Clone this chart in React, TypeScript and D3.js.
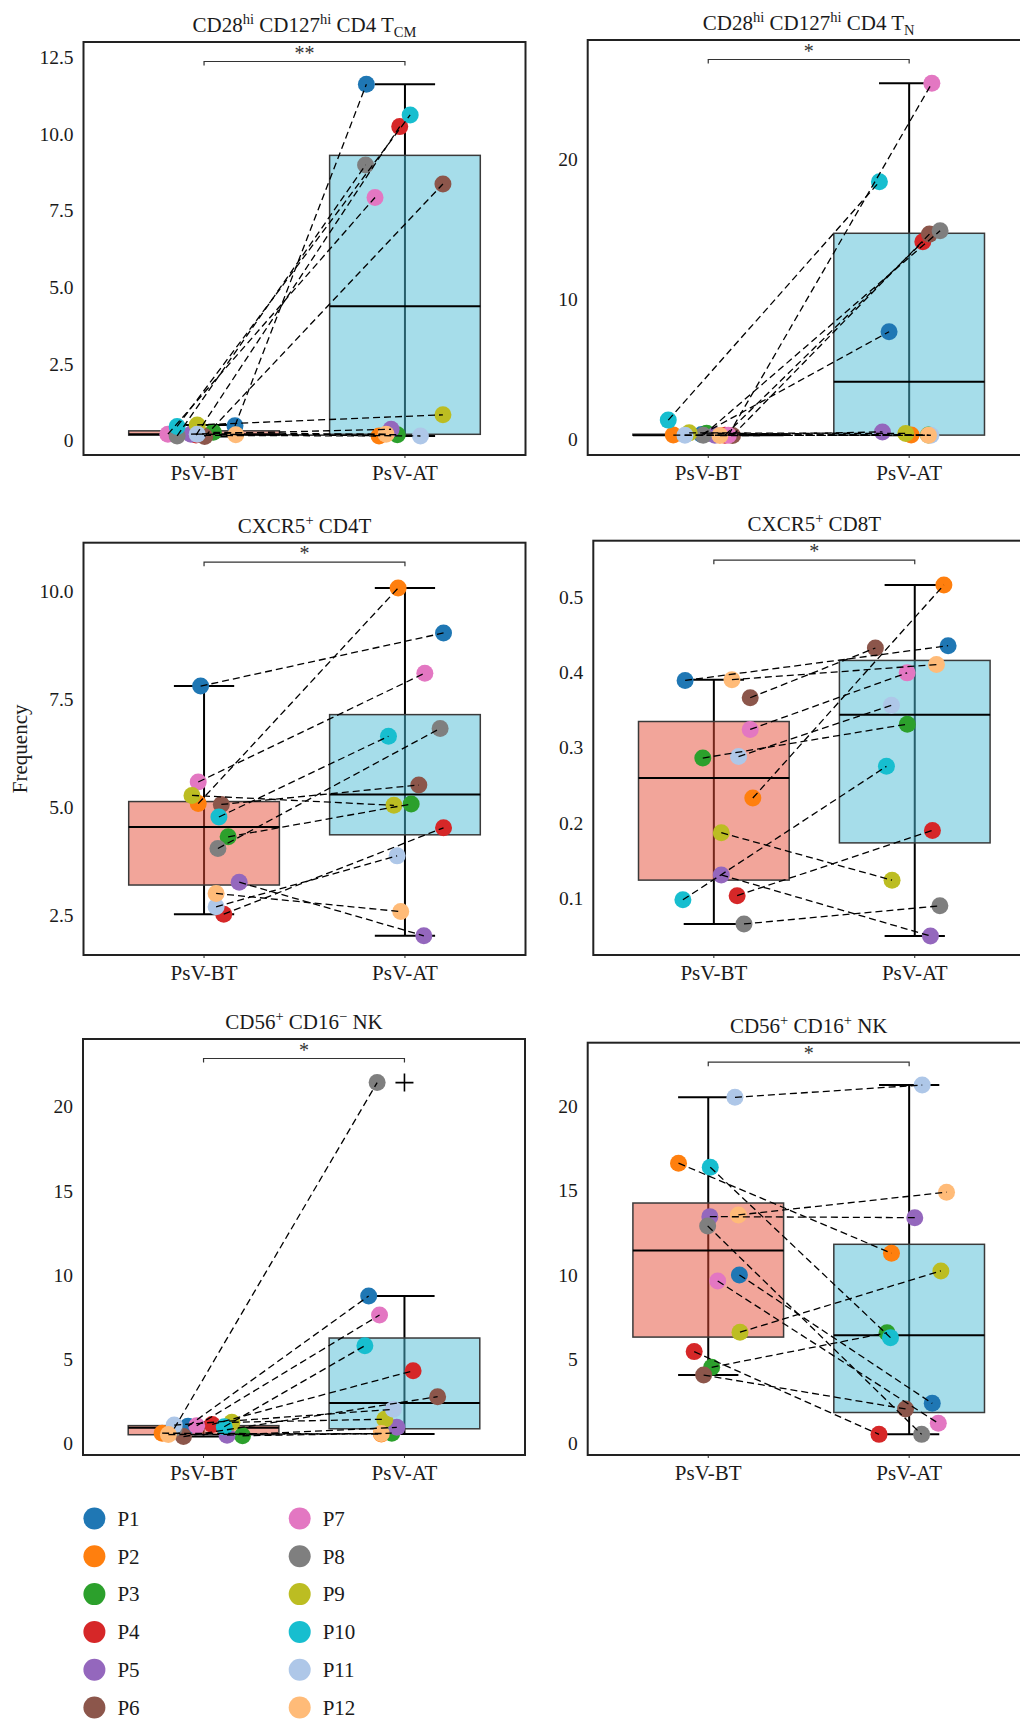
import React, { useEffect, useRef } from 'react';
import * as d3 from 'd3';

const patients = ['P1', 'P2', 'P3', 'P4', 'P5', 'P6', 'P7', 'P8', 'P9', 'P10', 'P11', 'P12'];
const patientColors = [
  '#1f77b4', '#ff7f0e', '#2ca02c', '#d62728', '#9467bd', '#8c564b',
  '#e377c2', '#7f7f7f', '#bcbd22', '#17becf', '#aec7e8', '#ffbb78',
];
const groups = ['PsV-BT', 'PsV-AT'];
const groupFills = ['#e54b35', '#4dbbd5'];

// values per patient (P1..P12), before / after treatment
const tcmBT = [0.48, 0.17, 0.27, 0.18, 0.21, 0.13, 0.21, 0.15, 0.51, 0.46, 0.21, 0.19];
const tcmAT = [11.62, 0.15, 0.19, 10.24, 0.37, 8.37, 7.93, 8.99, 0.84, 10.62, 0.15, 0.21];
const tnBT = [0.35, 0.31, 0.45, 0.3, 0.3, 0.28, 0.3, 0.3, 0.47, 1.38, 0.3, 0.28];
const tnAT = [7.69, 0.31, 0.31, 14.11, 0.54, 14.66, 25.43, 14.9, 0.43, 18.4, 0.3, 0.3];
const cd4BT = [7.8, 5.08, 4.31, 2.52, 3.26, 5.06, 5.58, 4.04, 5.27, 4.77, 2.69, 3.0];
const cd4AT = [9.03, 10.07, 5.07, 4.52, 2.02, 5.51, 8.1, 6.82, 5.04, 6.64, 3.87, 2.58];
const cd8BT = [0.389, 0.233, 0.286, 0.1035, 0.131, 0.366, 0.324, 0.066, 0.187, 0.098, 0.288, 0.39];
const cd8AT = [0.435, 0.5155, 0.331, 0.19, 0.05, 0.432, 0.399, 0.09, 0.124, 0.275, 0.356, 0.41];
const nkNegBT = [1.02, 0.6, 0.45, 1.12, 0.48, 0.4, 1.04, 0.88, 1.25, 0.98, 1.08, 0.52];
const nkNegAT = [8.75, 0.55, 0.6, 4.31, 0.95, 2.77, 7.62, 21.43, 1.43, 5.8, 2.02, 0.58];
const nkPosBT = [9.99, 16.62, 4.51, 5.44, 13.45, 4.05, 9.63, 12.9, 6.59, 16.38, 20.53, 13.55];
const nkPosAT = [2.37, 11.28, 6.56, 0.53, 13.39, 2.04, 1.19, 0.53, 10.23, 6.27, 21.26, 14.9];

// horizontal jitter of each dot (in category units)
const tcmJitBT = [0.154, 0.0, 0.046, -0.04, -0.065, 0.003, -0.18, -0.134, -0.034, -0.134, -0.034, 0.158];
const tcmJitAT = [-0.192, -0.129, -0.038, -0.026, -0.069, 0.189, -0.149, -0.196, 0.189, 0.026, 0.077, -0.094];
const tnJitBT = [-0.033, -0.174, -0.008, 0.083, 0.033, 0.121, 0.1, -0.025, -0.095, -0.199, -0.116, 0.058];
const tnJitAT = [-0.1, 0.01, 0.096, 0.068, -0.133, 0.101, 0.113, 0.154, -0.017, -0.148, 0.108, 0.096];
const cd4JitBT = [-0.017, -0.029, 0.12, 0.098, 0.175, 0.086, -0.029, 0.069, -0.06, 0.074, 0.06, 0.06];
const cd4JitAT = [0.192, -0.034, 0.031, 0.192, 0.094, 0.069, 0.099, 0.175, -0.055, -0.082, -0.039, -0.021];
const cd8JitBT = [-0.143, 0.194, -0.055, 0.116, 0.037, 0.181, 0.181, 0.15, 0.037, -0.154, 0.123, 0.09];
const cd8JitAT = [0.166, 0.145, -0.037, 0.088, 0.078, -0.196, -0.038, 0.125, -0.113, -0.141, -0.116, 0.108];
const nkNegJitBT = [-0.077, -0.206, 0.194, 0.043, 0.117, -0.1, -0.034, -0.146, 0.141, 0.103, -0.146, -0.175];
const nkNegJitAT = [-0.178, -0.115, -0.063, 0.043, -0.038, 0.165, -0.124, -0.136, -0.098, -0.197, -0.055, -0.115];
const nkPosJitBT = [0.155, -0.148, 0.017, -0.07, 0.008, -0.023, 0.047, -0.003, 0.158, 0.01, 0.133, 0.15];
const nkPosJitAT = [0.115, -0.088, -0.11, -0.15, 0.028, -0.018, 0.145, 0.062, 0.158, -0.093, 0.065, 0.186];

// title pieces: [text, kind] with kind '' | 'sup' | 'sub'
const titles = [
  [['CD28', ''], ['hi', 'sup'], [' CD127', ''], ['hi', 'sup'], [' CD4 T', ''], ['CM', 'sub']],
  [['CD28', ''], ['hi', 'sup'], [' CD127', ''], ['hi', 'sup'], [' CD4 T', ''], ['N', 'sub']],
  [['CXCR5', ''], ['+', 'sup'], [' CD4T', '']],
  [['CXCR5', ''], ['+', 'sup'], [' CD8T', '']],
  [['CD56', ''], ['+', 'sup'], [' CD16', ''], ['\u2212', 'sup'], [' NK', '']],
  [['CD56', ''], ['+', 'sup'], [' CD16', ''], ['+', 'sup'], [' NK', '']],
];
const yTicks = [
  [0, 2.5, 5, 7.5, 10, 12.5],
  [0, 10, 20],
  [2.5, 5, 7.5, 10],
  [0.1, 0.2, 0.3, 0.4, 0.5],
  [0, 5, 10, 15, 20],
  [0, 5, 10, 15, 20],
];
const yDomains = [
  [-0.47, 13.0],
  [-1.11, 28.52],
  [1.575, 11.12],
  [0.0248, 0.5743],
  [-0.695, 24.02],
  [-0.694, 23.77],
];
const stars = ['**', '*', '*', '*', '*', '*'];

const panels = [
  { bt: tcmBT, at: tcmAT, jbt: tcmJitBT, jat: tcmJitAT, left: 83.5, top: 42, bottom: 455, fmt: (v) => (v === 0 ? '0' : v.toFixed(1)) },
  { bt: tnBT, at: tnAT, jbt: tnJitBT, jat: tnJitAT, left: 587.7, top: 40, bottom: 455, fmt: (v) => String(v) },
  { bt: cd4BT, at: cd4AT, jbt: cd4JitBT, jat: cd4JitAT, left: 83.5, top: 542.7, bottom: 955, fmt: (v) => v.toFixed(1), ylabel: 'Frequency' },
  { bt: cd8BT, at: cd8AT, jbt: cd8JitBT, jat: cd8JitAT, left: 593.3, top: 540.7, bottom: 955, fmt: (v) => v.toFixed(1) },
  { bt: nkNegBT, at: nkNegAT, jbt: nkNegJitBT, jat: nkNegJitAT, left: 83, top: 1039, bottom: 1455, fmt: (v) => String(v), markOutliers: true },
  { bt: nkPosBT, at: nkPosAT, jbt: nkPosJitBT, jat: nkPosJitAT, left: 587.7, top: 1042.7, bottom: 1455, fmt: (v) => String(v) },
];

const FONT = '"Liberation Serif", "Times New Roman", serif';
const PANEL_W = 442;
const DOT_R = 8.5;

function drawPanel(svg, p, idx) {
  const x = d3.scaleLinear().domain([0.4, 2.6]).range([p.left, p.left + PANEL_W]);
  const y = d3.scaleLinear().domain(yDomains[idx]).range([p.bottom, p.top]);
  const g = svg.append('g');

  // boxes
  [p.bt, p.at].forEach((vals, gi) => {
    const s = vals.slice().sort(d3.ascending);
    const q1 = d3.quantile(s, 0.25);
    const med = d3.quantile(s, 0.5);
    const q3 = d3.quantile(s, 0.75);
    const iqr = q3 - q1;
    const inside = s.filter((v) => v >= q1 - 1.5 * iqr && v <= q3 + 1.5 * iqr);
    const lo = d3.min(inside);
    const hi = d3.max(inside);
    const cx = x(gi + 1);
    const bw = x(1.375) - x(1);
    const cw = x(1.15) - x(1);

    g.append('line')
      .attr('x1', cx).attr('x2', cx).attr('y1', y(lo)).attr('y2', y(hi))
      .attr('stroke', '#000').attr('stroke-width', 2);
    [lo, hi].forEach((v) => {
      g.append('line')
        .attr('x1', cx - cw).attr('x2', cx + cw).attr('y1', y(v)).attr('y2', y(v))
        .attr('stroke', '#000').attr('stroke-width', 2);
    });
    g.append('rect')
      .attr('x', cx - bw).attr('width', 2 * bw)
      .attr('y', y(q3)).attr('height', Math.max(1, y(q1) - y(q3)))
      .attr('fill', groupFills[gi]).attr('fill-opacity', 0.5)
      .attr('stroke', '#3a3a3a').attr('stroke-width', 1.5);
    g.append('line')
      .attr('x1', cx - bw).attr('x2', cx + bw).attr('y1', y(med)).attr('y2', y(med))
      .attr('stroke', '#000').attr('stroke-width', 2);

    if (p.markOutliers) {
      s.filter((v) => v < lo || v > hi).forEach((v) => {
        g.append('path')
          .attr('d', `M${cx - 9},${y(v)}H${cx + 9}M${cx},${y(v) - 9}V${y(v) + 9}`)
          .attr('stroke', '#000').attr('stroke-width', 1.6);
      });
    }
  });

  // dots
  patients.forEach((_, i) => {
    [[p.bt, p.jbt], [p.at, p.jat]].forEach(([vals, jit], gi) => {
      g.append('circle')
        .attr('cx', x(gi + 1 + jit[i]))
        .attr('cy', y(vals[i]))
        .attr('r', DOT_R)
        .attr('fill', patientColors[i]);
    });
  });

  // paired dashed lines
  patients.forEach((_, i) => {
    g.append('line')
      .attr('x1', x(1 + p.jbt[i])).attr('y1', y(p.bt[i]))
      .attr('x2', x(2 + p.jat[i])).attr('y2', y(p.at[i]))
      .attr('stroke', '#000').attr('stroke-width', 1.3)
      .attr('stroke-dasharray', '7,4');
  });

  // frame
  g.append('rect')
    .attr('x', p.left).attr('y', p.top)
    .attr('width', PANEL_W).attr('height', p.bottom - p.top)
    .attr('fill', 'none').attr('stroke', '#222').attr('stroke-width', 2);

  // x ticks + labels
  groups.forEach((name, gi) => {
    g.append('line')
      .attr('x1', x(gi + 1)).attr('x2', x(gi + 1))
      .attr('y1', p.bottom).attr('y2', p.bottom + 3)
      .attr('stroke', '#222').attr('stroke-width', 1);
    g.append('text')
      .attr('x', x(gi + 1)).attr('y', p.bottom + 25)
      .attr('text-anchor', 'middle')
      .attr('font-family', FONT).attr('font-size', 21).attr('fill', '#1a1a1a')
      .text(name);
  });

  // y tick labels
  yTicks[idx].forEach((v) => {
    g.append('text')
      .attr('x', p.left - 10).attr('y', y(v)).attr('dy', '0.35em')
      .attr('text-anchor', 'end')
      .attr('font-family', FONT).attr('font-size', 19.5).attr('fill', '#1a1a1a')
      .text(p.fmt(v));
  });

  // significance bracket
  const by = p.top + 19.5;
  g.append('path')
    .attr('d', `M${x(1)},${by + 4}V${by}H${x(2)}V${by + 4}`)
    .attr('fill', 'none').attr('stroke', '#333').attr('stroke-width', 1.2);
  g.append('text')
    .attr('x', (x(1) + x(2)) / 2).attr('y', by - 2)
    .attr('text-anchor', 'middle')
    .attr('font-family', FONT).attr('font-size', 20).attr('fill', '#333')
    .text(stars[idx]);

  // title
  const t = g.append('text')
    .attr('x', p.left + PANEL_W / 2).attr('y', p.top - 10)
    .attr('text-anchor', 'middle')
    .attr('font-family', FONT).attr('font-size', 21).attr('fill', '#1a1a1a');
  let shift = 0;
  titles[idx].forEach(([txt, kind]) => {
    const target = kind === 'sup' ? -8 : kind === 'sub' ? 5 : 0;
    t.append('tspan')
      .attr('dy', target - shift)
      .attr('font-size', kind ? 14.5 : 21)
      .text(txt);
    shift = target;
  });

  if (p.ylabel) {
    g.append('text')
      .attr('transform', `translate(20,${(p.top + p.bottom) / 2})rotate(-90)`)
      .attr('text-anchor', 'middle').attr('dy', '0.35em')
      .attr('font-family', FONT).attr('font-size', 21).attr('fill', '#1a1a1a')
      .text(p.ylabel);
  }
}

function drawLegend(svg) {
  const lg = svg.append('g');
  patients.forEach((name, i) => {
    const col = Math.floor(i / 6);
    const row = i % 6;
    const cy = 1518.5 + row * 37.8;
    const cx = col === 0 ? 94.4 : 299.7;
    lg.append('circle').attr('cx', cx).attr('cy', cy).attr('r', 11).attr('fill', patientColors[i]);
    lg.append('text')
      .attr('x', cx + 23).attr('y', cy).attr('dy', '0.35em')
      .attr('font-family', FONT).attr('font-size', 21).attr('fill', '#1a1a1a')
      .text(name);
  });
}

const App = () => {
  const svgRef = useRef(null);

  useEffect(() => {
    const svg = d3.select(svgRef.current);
    svg.selectAll('*').remove();
    panels.forEach((p, i) => drawPanel(svg, p, i));
    drawLegend(svg);
  }, []);

  return (
    <svg
      ref={svgRef}
      width={1020}
      height={1721}
      style={{ position: 'absolute', left: 0, top: 0, display: 'block', background: '#fff' }}
    />
  );
};

export default App;
